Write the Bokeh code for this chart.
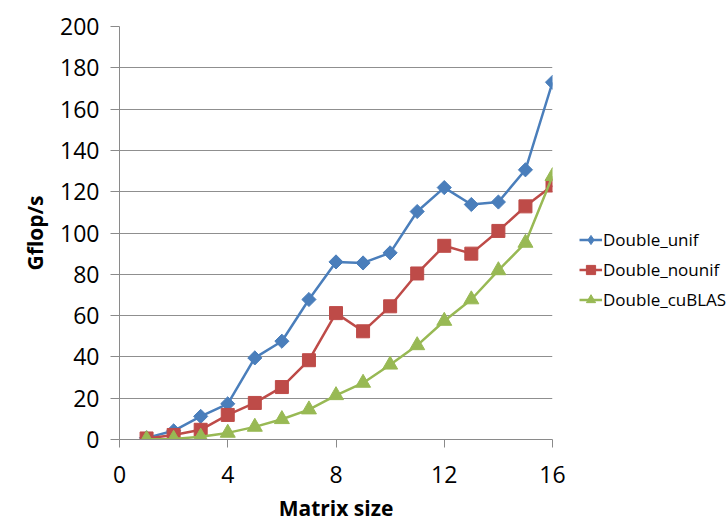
from bokeh.plotting import figure
from bokeh.models import Range1d, FixedTicker, Legend, LegendItem
from bokeh.embed import file_html
from bokeh.resources import INLINE

matrix_size = list(range(1, 17))
double_unif = [0.8, 4.2, 11.2, 17.3, 39.5, 47.6, 67.8, 86.0, 85.5, 90.4,
               110.4, 122.0, 113.8, 115.0, 130.6, 173.0]
double_nounif = [0.5, 2.2, 4.7, 11.9, 17.7, 25.4, 38.4, 61.2, 52.4, 64.5,
                 80.4, 93.8, 90.0, 101.0, 112.9, 123.0]
double_cublas = [0.1, 0.3, 1.3, 3.2, 6.1, 9.8, 14.5, 21.4, 27.4, 36.2,
                 45.6, 57.4, 67.8, 81.9, 95.2, 127.5]
series_names = ["Double_unif", "Double_nounif", "Double_cuBLAS"]
x_ticks = [0, 4, 8, 12, 16]
y_ticks = list(range(0, 201, 20))

FONT = "Open Sans"

p = figure(frame_width=433, frame_height=413,
           min_border_left=119, min_border_top=26,
           min_border_right=170, min_border_bottom=88,
           x_range=Range1d(0, 16), y_range=Range1d(0, 200),
           output_backend="svg", toolbar_location=None)
p.outline_line_color = None
p.background_fill_color = "white"
p.border_fill_color = "white"

p.xgrid.grid_line_color = None
p.ygrid.grid_line_color = "#8f8f8f"
p.ygrid.grid_line_width = 1

p.xaxis.ticker = FixedTicker(ticks=x_ticks)
p.yaxis.ticker = FixedTicker(ticks=y_ticks)
for ax in (p.xaxis, p.yaxis):
    ax.axis_line_color = "#8a8a8a"
    ax.major_tick_line_color = "#8a8a8a"
    ax.minor_tick_line_color = None
    ax.major_tick_in = 0
    ax.major_label_text_font = FONT
    ax.major_label_text_font_size = "23px"
    ax.major_label_text_color = "black"
    ax.axis_label_text_font = FONT
    ax.axis_label_text_font_style = "bold"
    ax.axis_label_text_font_size = "21px"
    ax.axis_label_text_color = "black"
p.yaxis.major_tick_out = 9
p.xaxis.major_tick_out = 8
p.yaxis.major_label_standoff = 11
p.xaxis.major_label_standoff = 18
p.xaxis.axis_label = "Matrix size"
p.yaxis.axis_label = "Gflop/s"
p.xaxis.axis_label_standoff = 8
p.yaxis.axis_label_standoff = 8

blue, red, green = "#4A7EBB", "#BE4B48", "#98B954"

l1 = p.line(matrix_size, double_unif, line_color=blue, line_width=2.5)
m1 = p.scatter(matrix_size, double_unif, marker="square", angle=0.785398,
               size=10, fill_color=blue, line_color=blue)
# legend proxy (hidden) so the legend shows a diamond
m1_leg = p.scatter(matrix_size, double_unif, marker="diamond", size=12,
                   fill_color=blue, line_color=blue, visible=False)
l2 = p.line(matrix_size, double_nounif, line_color=red, line_width=2.5)
m2 = p.scatter(matrix_size, double_nounif, marker="square", size=13,
               fill_color=red, line_color=red)
l3 = p.line(matrix_size, double_cublas, line_color=green, line_width=2.5)
m3 = p.scatter(matrix_size, double_cublas, marker="triangle", size=15,
               fill_color=green, line_color=green)

legend = Legend(items=[
    LegendItem(label=series_names[0], renderers=[l1, m1_leg]),
    LegendItem(label=series_names[1], renderers=[l2, m2]),
    LegendItem(label=series_names[2], renderers=[l3, m3]),
], location=(27, 128))
legend.padding = 0
legend.margin = 0
legend.spacing = 7
legend.glyph_width = 23
legend.glyph_height = 23
legend.label_standoff = 1
legend.label_text_font = FONT
legend.label_text_font_size = "17px"
legend.label_text_color = "black"
legend.background_fill_alpha = 0
legend.border_line_alpha = 0
p.add_layout(legend, "right")

open("out.html", "w").write(file_html(p, INLINE))
